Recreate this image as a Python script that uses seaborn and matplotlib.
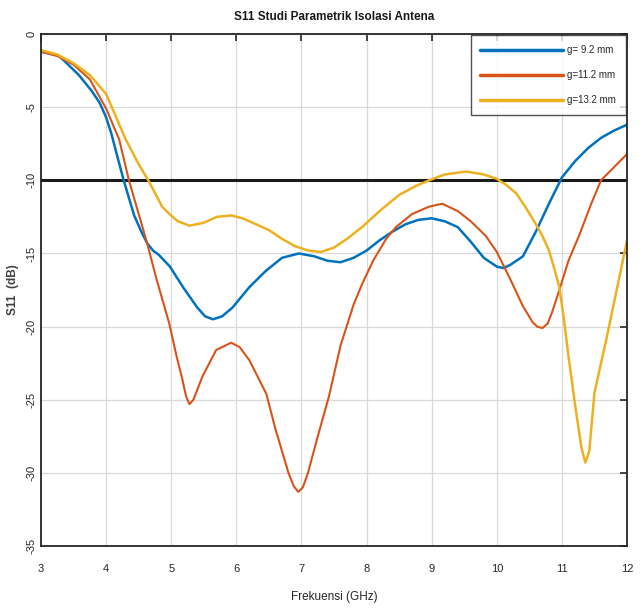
import matplotlib
matplotlib.use("Agg")
import matplotlib.pyplot as plt
import pandas as pd
import seaborn as sns

# S11 sweep results for three gap widths (frequency in GHz, S11 in dB)
freq_g92 = [3.0, 3.28, 3.58, 3.78, 3.9, 4.0, 4.08, 4.15, 4.27, 4.43, 4.55, 4.63, 4.72,
            4.81, 4.98, 5.18, 5.4, 5.52, 5.64, 5.78, 5.94, 6.2, 6.45, 6.7, 6.96, 7.2,
            7.4, 7.6, 7.8, 8.0, 8.2, 8.4, 8.6, 8.8, 9.0, 9.2, 9.4, 9.6, 9.8, 10.0,
            10.1, 10.2, 10.4, 10.6, 10.8, 11.0, 11.2, 11.4, 11.6, 11.8, 12.0]
s11_g92 = [-1.2, -1.5, -2.8, -3.9, -4.7, -5.7, -6.8, -8.0, -10.0, -12.4, -13.6, -14.3,
           -14.8, -15.1, -15.9, -17.3, -18.7, -19.3, -19.5, -19.3, -18.7, -17.3,
           -16.2, -15.3, -15.0, -15.2, -15.5, -15.6, -15.3, -14.8, -14.1, -13.5,
           -13.0, -12.7, -12.6, -12.8, -13.2, -14.2, -15.3, -15.9, -16.0, -15.8,
           -15.2, -13.5, -11.6, -9.8, -8.7, -7.8, -7.1, -6.6, -6.2]

freq_g112 = [3.0, 3.25, 3.5, 3.75, 4.0, 4.2, 4.35, 4.5, 4.63, 4.77, 4.97, 5.08, 5.17,
             5.23, 5.28, 5.34, 5.48, 5.69, 5.92, 6.05, 6.2, 6.46, 6.6, 6.8, 6.88,
             6.95, 7.02, 7.1, 7.25, 7.42, 7.6, 7.8, 7.93, 8.1, 8.3, 8.45, 8.7, 8.96,
             9.16, 9.4, 9.6, 9.83, 10.0, 10.2, 10.4, 10.55, 10.62, 10.7, 10.78,
             10.85, 10.96, 11.1, 11.27, 11.45, 11.6, 11.8, 12.0]
s11_g112 = [-1.2, -1.5, -2.1, -3.1, -5.1, -7.2, -10.0, -12.3, -14.3, -16.7, -19.8,
            -22.0, -23.6, -24.8, -25.3, -25.0, -23.4, -21.6, -21.1, -21.4, -22.3,
            -24.6, -27.0, -30.0, -30.9, -31.3, -31.0, -30.0, -27.5, -24.8, -21.3,
            -18.5, -17.1, -15.5, -14.0, -13.2, -12.3, -11.8, -11.6, -12.1, -12.8,
            -13.8, -14.9, -16.7, -18.6, -19.7, -20.0, -20.1, -19.8, -19.0, -17.5,
            -15.5, -13.7, -11.6, -10.0, -9.1, -8.2]

freq_g132 = [3.0, 3.25, 3.5, 3.75, 4.0, 4.3, 4.5, 4.66, 4.86, 4.97, 5.1, 5.28, 5.5,
             5.7, 5.92, 6.1, 6.3, 6.5, 6.7, 6.9, 7.1, 7.3, 7.5, 7.7, 7.93, 8.2, 8.5,
             8.75, 8.96, 9.2, 9.53, 9.8, 10.0, 10.14, 10.3, 10.45, 10.6, 10.7, 10.8,
             10.88, 10.96, 11.03, 11.1, 11.2, 11.3, 11.36, 11.42, 11.5, 11.68, 11.85,
             12.0]
s11_g132 = [-1.1, -1.4, -2.0, -2.8, -4.1, -7.2, -8.9, -10.1, -11.8, -12.3, -12.8,
            -13.1, -12.9, -12.5, -12.4, -12.6, -13.0, -13.4, -14.0, -14.5, -14.8,
            -14.9, -14.6, -14.0, -13.2, -12.1, -11.0, -10.4, -10.0, -9.6, -9.4, -9.6,
            -9.9, -10.3, -10.9, -11.9, -13.0, -13.8, -14.8, -16.0, -17.3, -19.5,
            -22.0, -25.3, -28.3, -29.3, -28.5, -24.5, -20.9, -17.3, -14.1]

series_labels = ["g= 9.2 mm", "g=11.2 mm", "g=13.2 mm"]
threshold_db = -10
x_ticks = [3, 4, 5, 6, 7, 8, 9, 10, 11, 12]
y_ticks = [0, -5, -10, -15, -20, -25, -30, -35]

df = pd.concat([
    pd.DataFrame({"f": freq_g92, "s11": s11_g92, "g": series_labels[0]}),
    pd.DataFrame({"f": freq_g112, "s11": s11_g112, "g": series_labels[1]}),
    pd.DataFrame({"f": freq_g132, "s11": s11_g132, "g": series_labels[2]}),
], ignore_index=True)

sns.set_theme(style="white")
plt.rcParams["font.family"] = ["Liberation Sans", "DejaVu Sans"]

fig = plt.figure(figsize=(6.44, 6.12), dpi=100)
ax = fig.add_axes([0.0637, 0.1078, 0.910, 0.8366])

palette = {series_labels[0]: "#0072BD", series_labels[1]: "#D95319",
           series_labels[2]: "#EDB120"}
sns.lineplot(data=df, x="f", y="s11", hue="g", palette=palette, estimator=None,
             sort=True, linewidth=1.8, ax=ax)
for ln in ax.get_lines():
    ln.set_solid_joinstyle("round")
    ln.set_solid_capstyle("round")
ax.get_lines()[1].set_linewidth(1.5)

ax.axhline(threshold_db, color="#1a1a1a", linewidth=2.2, zorder=1)

ax.set_xlim(3, 12)
ax.set_ylim(-35, 0)
ax.set_xticks(x_ticks)
ax.set_yticks(y_ticks)
ax.set_xticklabels([str(v) for v in x_ticks], fontsize=8)
ax.set_yticklabels([str(v) for v in y_ticks], fontsize=8, rotation=90, va="center")
ax.grid(True, color="#d9d9d9", linewidth=0.9)
ax.tick_params(direction="in", length=5, width=1.2, top=True, right=True,
               colors="#262626", labelcolor="#262626")
ax.tick_params(axis="x", pad=13)
ax.tick_params(axis="y", pad=3)
for sp in ax.spines.values():
    sp.set_color("#262626")
    sp.set_linewidth(1.3)

ax.set_title("S11 Studi Parametrik Isolasi Antena", fontsize=8.5, fontweight="bold",
             color="#1a1a1a", pad=10)
ax.set_xlabel("Frekuensi (GHz)", fontsize=8.5, color="#262626", labelpad=12)
ax.set_ylabel("S11  (dB)", fontsize=8.5, color="#404040", fontweight="bold",
              labelpad=6)

leg = ax.legend(loc="upper right", fontsize=7, frameon=True, fancybox=False,
                handlelength=8.5, borderpad=1.0, labelspacing=1.55, handletextpad=0.4,
                borderaxespad=0.15, bbox_to_anchor=(1.0, 1.0))
leg.get_frame().set_edgecolor("#262626")
leg.get_frame().set_linewidth(1.0)
for line in leg.get_lines():
    line.set_linewidth(2.5)
leg.set_title(None)

fig.savefig("out.png", dpi=100)
